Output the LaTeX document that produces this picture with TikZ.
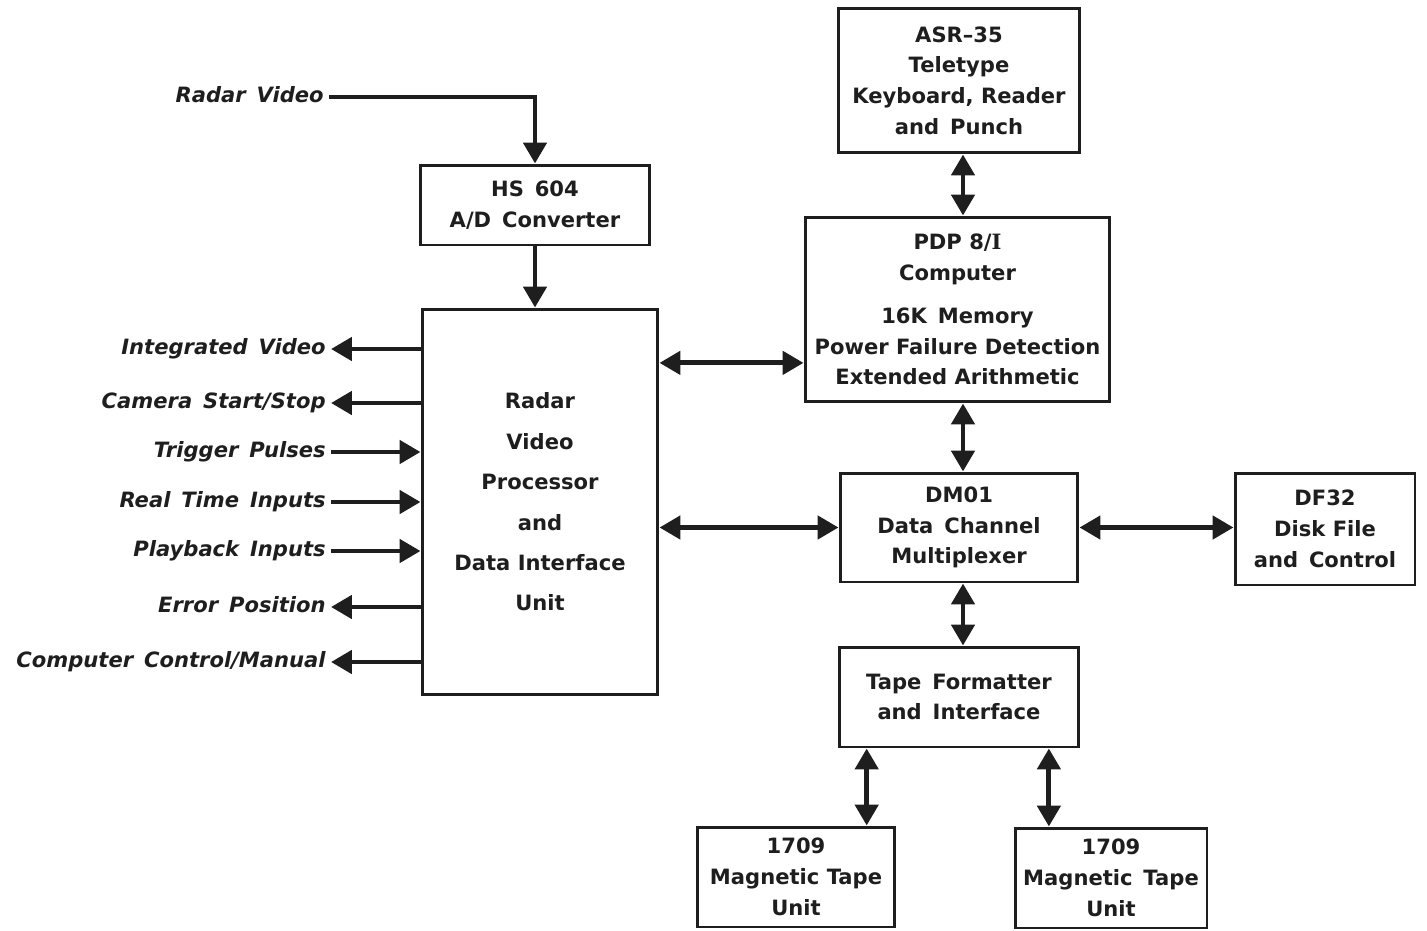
\documentclass[tikz,border=0pt]{standalone}
\usepackage{fontspec}
\setmainfont{DejaVu Sans}
\newfontfamily\serifI{DejaVu Serif}
\usetikzlibrary{arrows.meta,calc}
\definecolor{ink}{HTML}{1E1E1E}
\newcommand{\boxfont}{\bfseries\fontsize{12}{17.5}\selectfont}
\newcommand{\labfont}{\bfseries\itshape\fontsize{12}{15}\selectfont}
\begin{document}
\begin{tikzpicture}[x=0.02cm,y=-0.02cm,
  blk/.style={draw=ink,line width=1.7pt,inner sep=0pt,align=center,font=\boxfont,text=ink},
  conn/.style={draw=ink,line width=2.8pt},
  dbl/.style={conn,{Triangle[length=0.42cm,width=0.46cm]}-{Triangle[length=0.42cm,width=0.46cm]}},
  one/.style={conn,-{Triangle[length=0.42cm,width=0.46cm]}},
  lab/.style={font=\labfont,text=ink,anchor=east,inner sep=0.1cm,text height=9pt,text depth=2.5pt}]
\useasboundingbox (0,0) rectangle (1427,930);

% boxes
\node[blk,minimum width=4.6cm,minimum height=1.6cm] (hs) at (535,205) {HS\, 604\\A/D\, Converter};
\node[blk,minimum width=4.72cm,minimum height=7.72cm,font=\bfseries\fontsize{12}{23}\selectfont] (rvp) at (540,502)
  {Radar\\Video\\Processor\\and\\Data Interface\\Unit};
\node[blk,minimum width=4.84cm,minimum height=2.9cm] (asr) at (959,80.5)
  {ASR--35\\Teletype\\Keyboard, Reader\\and\, Punch};
\node[blk,minimum width=6.1cm,minimum height=3.7cm] (pdp) at (957.5,309.5)
  {PDP 8/{\serifI I}\\Computer\\[7pt]16K\, Memory\\Power Failure Detection\\Extended Arithmetic};
\node[blk,minimum width=4.76cm,minimum height=2.18cm] (dm) at (959,527.5)
  {DM01\\Data\, Channel\\Multiplexer};
\node[blk,minimum width=3.6cm,minimum height=2.24cm] (df) at (1325,529)
  {DF32\\Disk File\\and\, Control};
\node[blk,minimum width=4.8cm,minimum height=2.0cm] (tf) at (959,697)
  {Tape\, Formatter\\and\, Interface};
\node[blk,minimum width=3.96cm,minimum height=2.0cm] (mt1) at (796,877)
  {1709\\Magnetic Tape\\Unit};
\node[blk,minimum width=3.84cm,minimum height=2.0cm] (mt2) at (1111,878)
  {1709\\Magnetic\, Tape\\Unit};

% radar video input
\node[lab] (rv) at (329,97) {Radar\, Video};
\draw[one] (rv.east) -| (hs.north);
\draw[one] (hs.south) -- (hs.south |- rvp.north);

% left signals
\node[lab] (iv) at (331,349) {Integrated\, Video};
\node[lab] (cs) at (331,403) {Camera\, Start/Stop};
\node[lab] (tp) at (331,452) {Trigger\, Pulses};
\node[lab] (rt) at (331,502) {Real\, Time\, Inputs};
\node[lab] (pb) at (331,551) {Playback\, Inputs};
\node[lab] (ep) at (331,607) {Error\, Position};
\node[lab] (cc) at (331,662) {Computer\, Control/Manual};
\draw[one] (iv.east -| rvp.west) -- (iv.east);
\draw[one] (cs.east -| rvp.west) -- (cs.east);
\draw[one] (tp.east) -- (tp.east -| rvp.west);
\draw[one] (rt.east) -- (rt.east -| rvp.west);
\draw[one] (pb.east) -- (pb.east -| rvp.west);
\draw[one] (ep.east -| rvp.west) -- (ep.east);
\draw[one] (cc.east -| rvp.west) -- (cc.east);

% right side connections
\coordinate (pw) at ($(pdp.south west)!0.216!(pdp.north west)$);
\draw[dbl] (pw -| rvp.east) -- (pw);
\draw[dbl] (dm.west -| rvp.east) -- (dm.west);
\draw[dbl] (dm.east) -- (dm.east -| df.west);
\coordinate (asrs) at ($(asr.south)+(4,0)$);
\draw[dbl] (asrs) -- (asrs |- pdp.north);
\coordinate (dmn) at ($(dm.north)+(4,0)$);
\draw[dbl] (dmn |- pdp.south) -- (dmn);
\coordinate (dms) at ($(dm.south)+(4,0)$);
\draw[dbl] (dms) -- (dms |- tf.north);
\coordinate (t1) at ($(tf.south west)!0.12!(tf.south east)$);
\coordinate (t2) at ($(tf.south west)!0.87!(tf.south east)$);
\draw[dbl] (t1) -- (t1 |- mt1.north);
\draw[dbl] (t2) -- (t2 |- mt2.north);
\end{tikzpicture}
\end{document}
